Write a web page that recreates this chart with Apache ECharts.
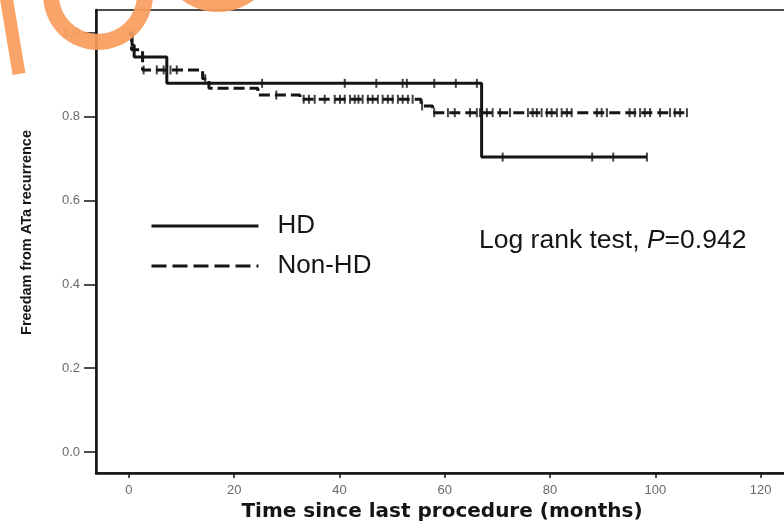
<!DOCTYPE html>
<html>
<head>
<meta charset="utf-8">
<script src="https://cdn.jsdelivr.net/npm/echarts@6/dist/echarts.min.js"></script>
<style>
html,body{margin:0;padding:0;background:#fff;}
#chart{width:784px;height:523px;}
</style>
</head>
<body>
<div id="chart"></div>
<script>
// ---- Data ----
const xTickValues = [0, 20, 40, 60, 80, 100, 120];
const yTickValues = [0.0, 0.2, 0.4, 0.6, 0.8, 1.0];

// HD (solid) Kaplan-Meier steps
const hdTimes = [0, 0.6, 1.0, 7.2, 67.0, 98.4];
const hdSurv  = [1.0, 0.971, 0.943, 0.880, 0.704, 0.704];
// HD censored marks
const hdCensorTimes = [25.3, 41.0, 47.0, 52.0, 52.8, 58.0, 62.1, 66.1, 71.0, 88.0, 92.0, 98.4];
const hdCensorSurv  = [0.880, 0.880, 0.880, 0.880, 0.880, 0.880, 0.880, 0.880, 0.704, 0.704, 0.704, 0.704];

// Non-HD (dashed) Kaplan-Meier steps
const nonTimes = [0, 0.5, 2.6, 14.0, 15.2, 24.5, 32.5, 55.5, 57.7, 106.0];
const nonSurv  = [1.0, 0.960, 0.912, 0.891, 0.868, 0.852, 0.842, 0.826, 0.810, 0.810];
// Non-HD censored marks
const nonCensorTimes = [2.8, 5.3, 6.6, 7.9, 9.1, 14.5, 28.0,
  33.2, 34.2, 35.3, 37.2, 39.1, 40.1, 41.0, 42.0, 42.9, 43.6, 44.4, 45.4, 46.3, 47.3, 48.2, 49.2, 50.1, 51.1, 52.0, 53.0, 53.9,
  55.7,
  58.0, 60.6, 61.9, 64.8, 66.1, 66.7, 68.0, 69.1, 70.5, 72.4, 75.8, 76.7, 77.5, 78.4, 79.4, 80.3, 81.3, 82.2, 83.2, 84.1,
  88.9, 89.8, 90.8, 95.1, 96.1, 97.1, 98.0, 99.0, 100.9, 102.8, 103.7, 104.7, 106.0];
const nonCensorSurv = [0.912, 0.912, 0.912, 0.912, 0.912, 0.891, 0.852,
  0.842, 0.842, 0.842, 0.842, 0.842, 0.842, 0.842, 0.842, 0.842, 0.842, 0.842, 0.842, 0.842, 0.842, 0.842, 0.842, 0.842, 0.842, 0.842, 0.842, 0.842,
  0.826,
  0.810, 0.810, 0.810, 0.810, 0.810, 0.810, 0.810, 0.810, 0.810, 0.810, 0.810, 0.810, 0.810, 0.810, 0.810, 0.810, 0.810, 0.810, 0.810, 0.810,
  0.810, 0.810, 0.810, 0.810, 0.810, 0.810, 0.810, 0.810, 0.810, 0.810, 0.810, 0.810, 0.810];

const seriesNames = ['HD', 'Non-HD'];
const xAxisTitle = 'Time since last procedure (months)';
const yAxisTitle = 'Freedam from ATa recurrence';
const testText = 'Log rank test, ';
const testP = 'P';
const testValue = '=0.942';

// ---- Build ----
const zip = (a, b) => a.map((v, i) => [v, b[i]]);
const ink = '#151515';
const orange = '#F89C5C';

const chart = echarts.init(document.getElementById('chart'), null, {renderer: 'canvas'});
chart.setOption({
  animation: false,
  backgroundColor: '#ffffff',
  grid: {
    left: 96, top: 10, right: -4, bottom: 50,
    show: true, borderColor: ink, borderWidth: 1.5,
    containLabel: false, outerBoundsMode: 'none'
  },
  xAxis: {
    type: 'value', min: -6.25, max: 125.2,
    name: xAxisTitle, nameLocation: 'middle', nameGap: 29,
    nameTextStyle: {fontFamily: 'DejaVu Sans', fontWeight: 'bold', fontSize: 20, color: ink},
    axisLine: {show: true, onZero: false, lineStyle: {color: ink, width: 2.5}},
    axisTick: {show: true, customValues: xTickValues, length: 5, lineStyle: {color: ink, width: 1.5}},
    axisLabel: {customValues: xTickValues, margin: 11, color: '#6a6a6a', fontSize: 13,
      fontFamily: 'Liberation Sans'},
    splitLine: {show: false}
  },
  yAxis: {
    type: 'value', min: -0.05, max: 1.055,
    name: yAxisTitle, nameLocation: 'middle', nameRotate: 90, nameGap: 62,
    nameTextStyle: {fontFamily: 'Liberation Sans', fontWeight: 'bold', fontSize: 14.5, color: ink,
      padding: [0, 0, 0, 18]},
    axisLine: {show: true, onZero: false, lineStyle: {color: ink, width: 2.5}},
    axisTick: {show: true, customValues: yTickValues, length: 12, lineStyle: {color: ink, width: 1.5}},
    axisLabel: {customValues: yTickValues, margin: 16, color: '#6a6a6a', fontSize: 13,
      fontFamily: 'Liberation Sans', formatter: v => v.toFixed(1)},
    splitLine: {show: false}
  },
  legend: {
    data: [
      {name: seriesNames[0], lineStyle: {type: 'solid', width: 3}},
      {name: seriesNames[1], lineStyle: {type: [15, 6], width: 3}}
    ],
    orient: 'vertical', left: 145, top: 208,
    itemWidth: 107, itemHeight: 20, itemGap: 14,
    itemStyle: {opacity: 0},
    lineStyle: {width: 3},
    textStyle: {fontFamily: 'Liberation Sans', fontSize: 26, color: ink, lineHeight: 26, padding: [0, 0, 0, 14]},
    selectedMode: false
  },
  title: {
    left: 474, top: 222,
    text: '{n|' + testText + '}{i|' + testP + '}{n|' + testValue + '}',
    textStyle: {
      fontWeight: 'normal',
      rich: {
        n: {fontFamily: 'Liberation Sans', fontSize: 26.5, fontWeight: 'normal', color: ink},
        i: {fontFamily: 'Liberation Sans', fontSize: 26.5, fontWeight: 'normal', fontStyle: 'italic', color: ink}
      }
    }
  },
  series: [
    {
      name: seriesNames[0], type: 'line', step: 'end', data: zip(hdTimes, hdSurv),
      symbol: 'none', lineStyle: {color: ink, width: 3}, itemStyle: {color: ink}, z: 3
    },
    {
      name: seriesNames[1], type: 'line', step: 'end', data: zip(nonTimes, nonSurv),
      symbol: 'none', lineStyle: {color: ink, width: 3, type: [11, 5]}, itemStyle: {color: ink}, z: 3
    },
    {
      name: 'HD censored', type: 'scatter', data: zip(hdCensorTimes, hdCensorSurv),
      symbol: 'rect', symbolSize: [2, 9], itemStyle: {color: ink}, z: 4
    },
    {
      name: 'Non-HD censored', type: 'scatter', data: zip(nonCensorTimes, nonCensorSurv),
      symbol: 'rect', symbolSize: [2, 9], itemStyle: {color: ink}, z: 4
    }
  ],
  graphic: [
    {type: 'line', shape: {x1: 6, y1: -4, x2: 19, y2: 74}, style: {stroke: orange, lineWidth: 13, opacity: 0.92}, z: 100},
    {type: 'ring', shape: {cx: 98, cy: -5, r: 55, r0: 39}, style: {fill: orange, opacity: 0.92}, z: 100},
    {type: 'ring', shape: {cx: 218, cy: -48, r: 60, r0: 44}, style: {fill: orange, opacity: 0.92}, z: 100}
  ]
});
</script>
</body>
</html>
